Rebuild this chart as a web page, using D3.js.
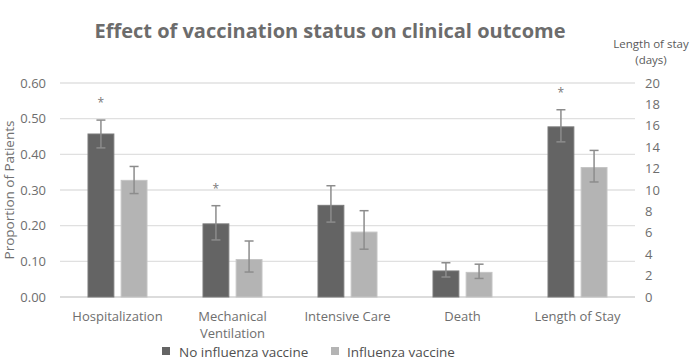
<!DOCTYPE html>
<html><head><meta charset="utf-8">
<script src="https://cdn.jsdelivr.net/npm/d3@7"></script>
<style>body{margin:0;background:#fff}svg{display:block}text{font-family:"Open Sans",sans-serif}</style>
</head><body><svg id="c" width="696" height="361"></svg>
<script>
const categories = ["Hospitalization", "Mechanical Ventilation", "Intensive Care", "Death", "Length of Stay"];
const seriesNames = ["No influenza vaccine", "Influenza vaccine"];
// proportions for first four categories; Length of Stay in days (right axis)
const noVaccine = [0.457, 0.205, 0.257, 0.073, 15.9];
const noVaccineLow = [0.418, 0.160, 0.210, 0.056, 14.5];
const noVaccineHigh = [0.496, 0.256, 0.312, 0.096, 17.5];
const vaccine = [0.327, 0.105, 0.182, 0.069, 12.1];
const vaccineLow = [0.290, 0.070, 0.134, 0.052, 10.75];
const vaccineHigh = [0.366, 0.157, 0.242, 0.092, 13.7];
const significant = [true, true, false, false, true];
const leftTicks = [0, 0.1, 0.2, 0.3, 0.4, 0.5, 0.6];
const rightTicks = [0, 2, 4, 6, 8, 10, 12, 14, 16, 18, 20];

const svg = d3.select("#c");
const L = 60, R = 635, T = 83, B = 297;
const yL = d3.scaleLinear().domain([0, 0.6]).range([B, T]);
const yR = d3.scaleLinear().domain([0, 20]).range([B, T]);
const x0 = d3.scaleBand().domain(categories).range([L, R]).paddingInner(0).paddingOuter(0);
const x1 = d3.scaleBand().domain(seriesNames).range([-29.5, 29.5]).paddingInner(0.22);
const colors = ["#646464", "#b4b4b4"];
const strokes = ["#7a7a7a", "#c4c4c4"];
const scaleFor = i => i === 4 ? yR : yL;

// gridlines
svg.append("g").selectAll("line").data(leftTicks).join("line")
  .attr("x1", L).attr("x2", R).attr("y1", d => yL(d)).attr("y2", d => yL(d))
  .attr("stroke", d => d === 0 ? "#d0d0d0" : "#e0e0e0").attr("stroke-width", 1.3);

// left axis
const gl = svg.append("g").attr("transform", `translate(${L},0)`)
  .call(d3.axisLeft(yL).tickValues(leftTicks).tickFormat(d3.format(".2f")).tickSize(0).tickPadding(14));
gl.select(".domain").remove();
gl.selectAll("text").attr("fill", "#6e6e6e").style("font-size", "13px");

// right axis
const gr = svg.append("g").attr("transform", `translate(${R},0)`)
  .call(d3.axisRight(yR).tickValues(rightTicks).tickSize(0).tickPadding(10));
gr.select(".domain").remove();
gr.selectAll("text").attr("fill", "#6e6e6e").style("font-size", "13px");

const series = [
  {name: seriesNames[0], v: noVaccine, lo: noVaccineLow, hi: noVaccineHigh},
  {name: seriesNames[1], v: vaccine, lo: vaccineLow, hi: vaccineHigh}
];
series.forEach((s, si) => {
  const g = svg.append("g");
  categories.forEach((c, i) => {
    const y = scaleFor(i);
    const cx = x0(c) + x0.bandwidth() / 2 + x1(s.name);
    const w = x1.bandwidth();
    g.append("rect").attr("x", cx).attr("y", y(s.v[i])).attr("width", w).attr("height", B - y(s.v[i]))
      .attr("fill", colors[si]).attr("stroke", strokes[si]).attr("stroke-width", 1);
    const mx = cx + w / 2;
    g.append("line").attr("x1", mx).attr("x2", mx).attr("y1", y(s.lo[i])).attr("y2", y(s.hi[i]))
      .attr("stroke", "#8c8c8c").attr("stroke-width", 1.5);
    [s.lo[i], s.hi[i]].forEach(e => g.append("line").attr("x1", mx - 4.5).attr("x2", mx + 4.5)
      .attr("y1", y(e)).attr("y2", y(e)).attr("stroke", "#8c8c8c").attr("stroke-width", 1.5));
    if (si === 0 && significant[i]) {
      svg.append("text").attr("x", mx).attr("y", y(s.hi[i]) - 13).attr("text-anchor", "middle")
        .attr("fill", "#7a7a7a").style("font-size", "12px").text("*");
    }
  });
});

// category labels
const catLines = {"Mechanical Ventilation": ["Mechanical", "Ventilation"]};
categories.forEach(c => {
  const lines = catLines[c] || [c];
  const t = svg.append("text").attr("x", x0(c) + x0.bandwidth() / 2).attr("y", 321)
    .attr("text-anchor", "middle").attr("fill", "#6e6e6e").style("font-size", "13px");
  lines.forEach((l, k) => t.append("tspan").attr("x", x0(c) + x0.bandwidth() / 2).attr("dy", k ? 17 : 0).text(l));
});

// title
svg.append("text").attr("x", 330).attr("y", 38).attr("text-anchor", "middle")
  .attr("fill", "#6c6c6c").style("font-size", "20px").style("font-weight", "bold")
  .text("Effect of vaccination status on clinical outcome");

// y axis title
svg.append("text").attr("transform", "translate(14,190) rotate(-90)").attr("text-anchor", "middle")
  .attr("fill", "#707070").style("font-size", "13.5px").text("Proportion of Patients");

// right axis title
svg.append("text").attr("x", 651).attr("y", 48).attr("text-anchor", "middle").attr("fill", "#5a5a5a")
  .style("font-size", "11.5px").text("Length of stay");
svg.append("text").attr("x", 651).attr("y", 64).attr("text-anchor", "middle").attr("fill", "#5a5a5a")
  .style("font-size", "11.5px").text("(days)");

// legend
const leg = [{x: 162, tx: 179}, {x: 331, tx: 347}];
seriesNames.forEach((n, i) => {
  svg.append("rect").attr("x", leg[i].x).attr("y", 347).attr("width", 8).attr("height", 8).attr("fill", colors[i]);
  svg.append("text").attr("x", leg[i].tx).attr("y", 357).attr("fill", "#505050").style("font-size", "13.5px").text(n);
});
</script></body></html>
